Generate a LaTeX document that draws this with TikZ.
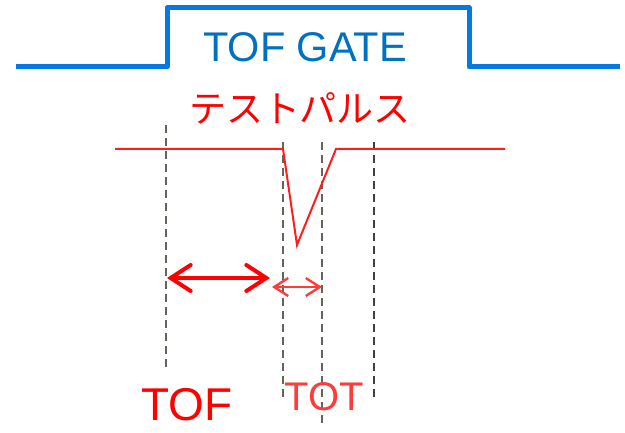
\documentclass[tikz,border=0pt]{standalone}
\usepackage{fontspec}
\setmainfont{Liberation Sans}
\newfontfamily\jpfont{Noto Sans CJK JP}
\usetikzlibrary{arrows.meta}
\definecolor{gateblue}{RGB}{5,120,225}
\definecolor{gatetext}{RGB}{0,112,192}
\definecolor{pulsered}{RGB}{255,30,30}
\definecolor{lightred}{RGB}{255,60,60}
\definecolor{dashgray}{RGB}{100,100,90}
\tikzset{
  gate/.style={draw=gateblue, line width=5pt, line join=round, line cap=butt},
  pulse/.style={draw=pulsered, line width=2pt, line join=miter},
  guide/.style={draw=dashgray, line width=2.3pt, dash pattern=on 8pt off 5pt},
  bigarrow/.style={draw=red, line width=4pt, {Straight Barb[length=20pt,width=26pt,line cap=round]}-{Straight Barb[length=20pt,width=26pt,line cap=round]}},
  smallarrow/.style={draw=lightred, line width=2.4pt, {Straight Barb[length=14pt,width=18pt]}-{Straight Barb[length=14pt,width=18pt]}},
  lbl/.style={inner sep=0pt, outer sep=0pt}
}
\begin{document}
\begin{tikzpicture}[x=1pt,y=-1pt]
\useasboundingbox (0,0) rectangle (625,433);
% TOF gate waveform
\coordinate (g0) at (16,67);
\coordinate (g1) at (167,67);
\coordinate (g2) at (167,8);
\coordinate (g3) at (469,8);
\coordinate (g4) at (469,67);
\coordinate (g5) at (620,67);
\draw[gate] (g0) -- (g1) -- (g2) -- (g3) -- (g4) -- (g5);
\node[lbl, text=gatetext, font=\fontsize{41.5}{44}\selectfont] (gatelbl) at (305,47) {TOF GATE};
% test pulse label
\node[lbl, text=red, font=\jpfont\fontsize{37}{40}\selectfont] (tplbl) at (300,108) {テストパルス};
% guide lines
\coordinate (d1t) at (166,125); \coordinate (d1b) at (166,368);
\coordinate (d2t) at (283,142); \coordinate (d2b) at (283,397);
\coordinate (d3t) at (322,142); \coordinate (d3b) at (322,427);
\coordinate (d4t) at (374,142); \coordinate (d4b) at (374,397);
\draw[guide] (d1t) -- (d1b);
\draw[guide] (d2t) -- (d2b);
\draw[guide] (d3t) -- (d3b);
\draw[guide, line width=1.6pt, draw=black!75] (d4t) -- (d4b);
% pulse waveform
\coordinate (p0) at (115,149);
\coordinate (p1) at (283,149);
\coordinate (p2) at (297,245);
\coordinate (p3) at (336,149);
\coordinate (p4) at (505,149);
\draw[pulse] (p0) -- (p1) -- (p2) -- (p3) -- (p4);
% arrows
\coordinate (a1) at (167,278);
\coordinate (a2) at (270,278);
\coordinate (b1) at (272,287);
\coordinate (b2) at (322,287);
\draw[bigarrow] (a1) -- (a2);
\draw[smallarrow] (b1) -- (b2);
% labels
\node[lbl, text=red, font=\fontsize{46}{48}\selectfont] (toflbl) at (187,405) {TOF};
\node[lbl, text=lightred, font=\fontsize{40}{42}\selectfont] (totlbl) at (324,397) {TOT};
\end{tikzpicture}
\end{document}
